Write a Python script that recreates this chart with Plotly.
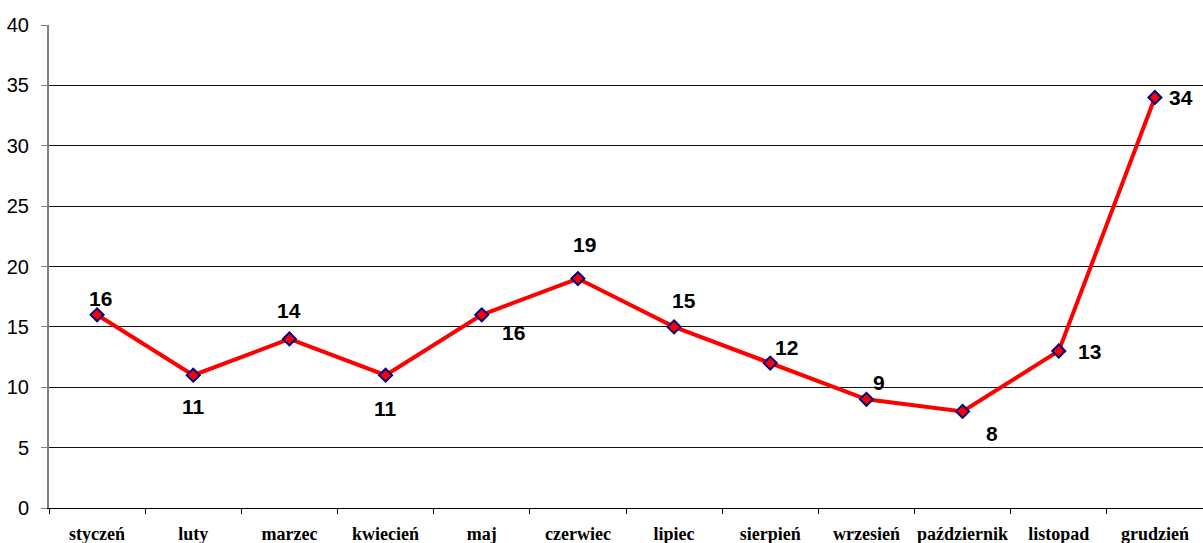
import plotly.graph_objects as go

months = ["styczeń", "luty", "marzec", "kwiecień", "maj", "czerwiec", "lipiec",
          "sierpień", "wrzesień", "październik", "listopad", "grudzień"]
values = [16, 11, 14, 11, 16, 19, 15, 12, 9, 8, 13, 34]
y_ticks = [0, 5, 10, 15, 20, 25, 30, 35, 40]

# label offsets (px) relative to each point
label_dx = [3, 0, 0, 0, 32, 7, 10, 16, 13, 29, 31, 26]
label_dy = [16, -31, 28, -33, -18, 34, 26, 16, 17, -22, 0, 0]

fig = go.Figure()
fig.add_trace(go.Scatter(
    x=months, y=values, mode="lines+markers",
    line=dict(color="#FF0000", width=4),
    marker=dict(symbol="diamond", size=10, color="#FF0000",
                line=dict(color="#000080", width=2)),
    showlegend=False, hoverinfo="skip", cliponaxis=False,
))

for m, v, dx, dy in zip(months, values, label_dx, label_dy):
    fig.add_annotation(x=m, y=v, text=f"<b>{v}</b>", showarrow=False,
                       xshift=dx, yshift=dy,
                       font=dict(family="Liberation Sans, Arial", size=21, color="#000"))

fig.update_layout(
    width=1203, height=543,
    margin=dict(l=49, r=0, t=25, b=35, autoexpand=False),
    paper_bgcolor="white", plot_bgcolor="white",
)
fig.update_xaxes(
    type="category", range=[-0.5, 11.5], automargin=False,
    showline=True, linecolor="#000", linewidth=1,
    ticks="outside", tickson="boundaries", ticklen=5, tickcolor="#000",
    tickangle=0, ticklabelstandoff=9,
    tickfont=dict(family="Liberation Serif, Times New Roman", size=18, color="#000"),
    showgrid=False, fixedrange=True,
    ticktext=[f"<b>{m}</b>" for m in months], tickvals=months,
)
fig.update_yaxes(
    range=[0, 40], tickvals=y_ticks, automargin=False,
    showline=True, linecolor="#808080", linewidth=2,
    ticks="outside", ticklen=6, tickcolor="#808080",
    gridcolor="#111", gridwidth=1, zeroline=False,
    tickfont=dict(family="Liberation Sans, Arial", size=20, color="#000"),
    ticklabelstandoff=8, fixedrange=True,
)

fig.write_html("out.html", config={"displayModeBar": False},
               post_script="document.body.style.margin='0';document.body.style.overflow='hidden';")
